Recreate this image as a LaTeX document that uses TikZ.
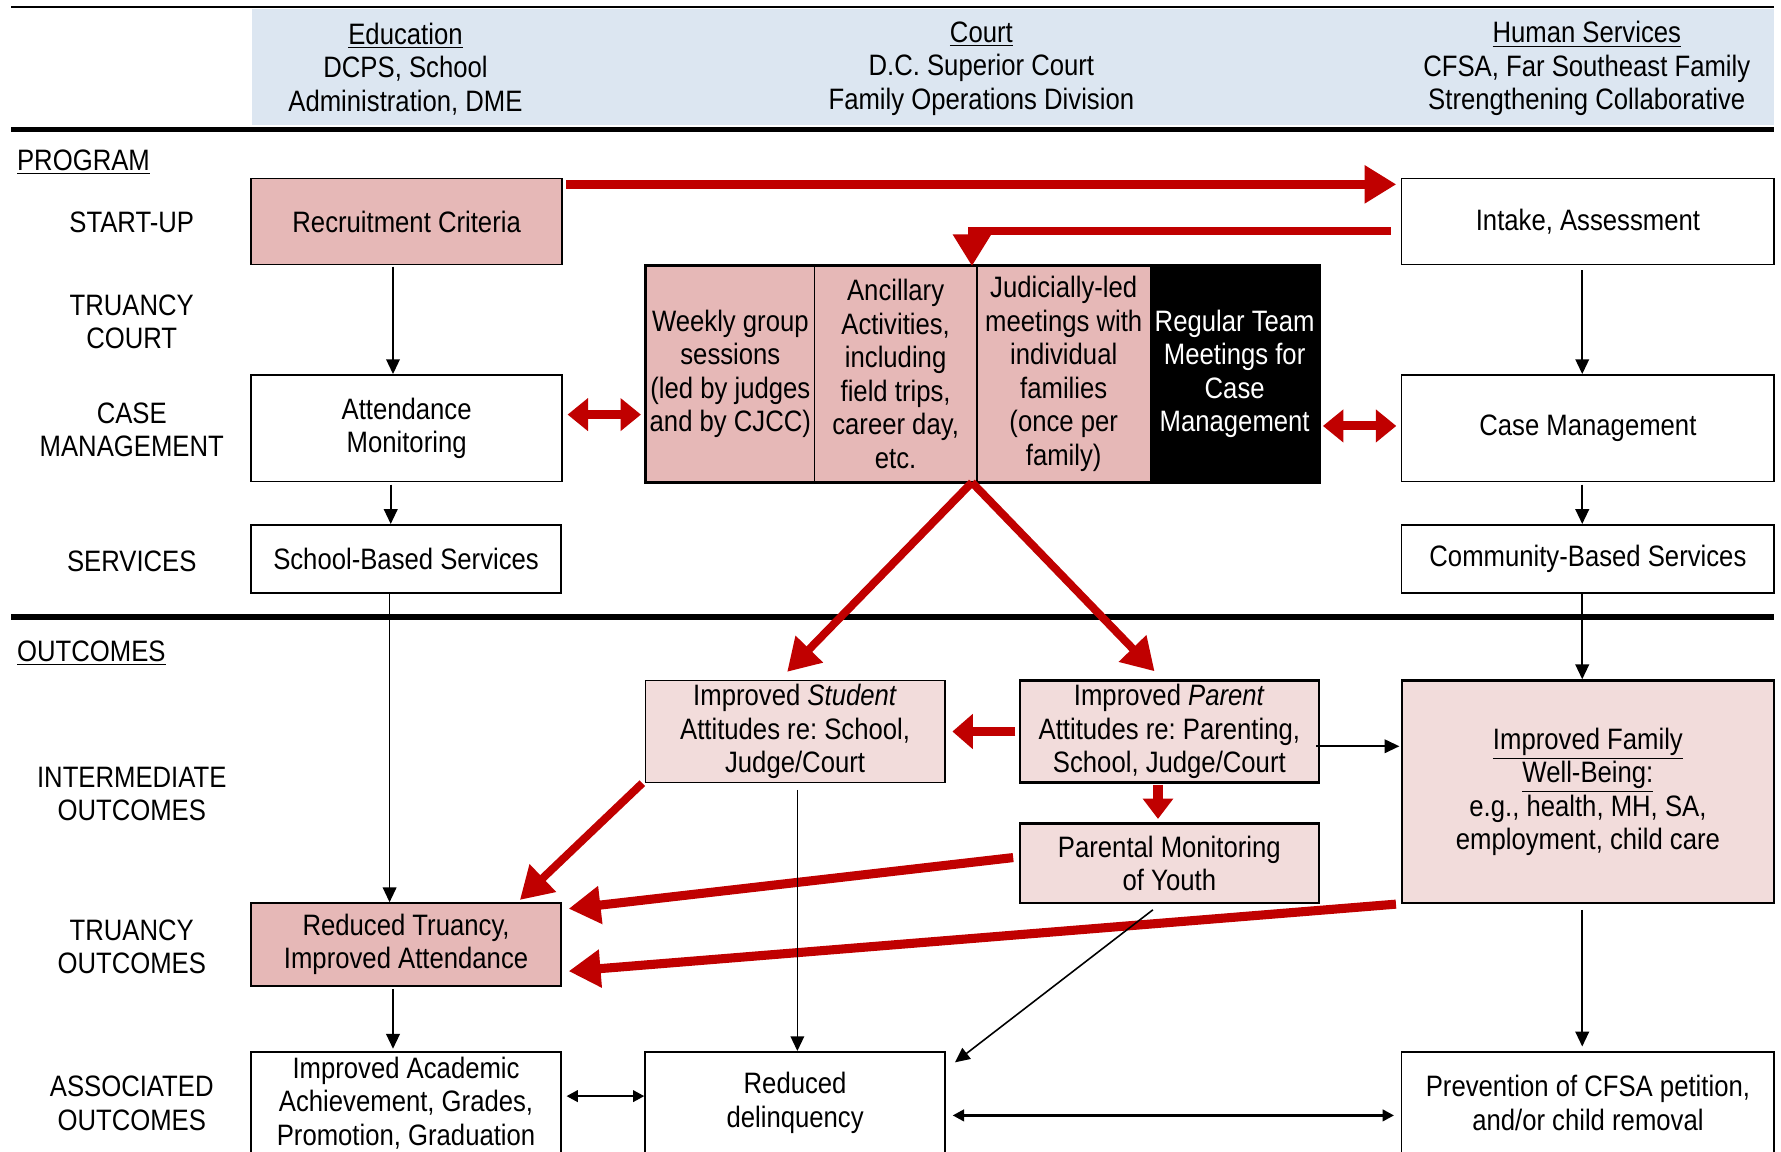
\documentclass[tikz,border=0pt]{standalone}
\usepackage{fontspec}
\setmainfont{Liberation Sans}[FakeStretch=0.87]
\usetikzlibrary{arrows.meta}
\definecolor{hdrBlue}{RGB}{220,230,241}
\definecolor{pinkDark}{RGB}{230,184,183}
\definecolor{pinkLight}{RGB}{242,220,219}
\definecolor{arrowRed}{RGB}{192,0,0}
\newcommand{\rowFont}{\fontsize{13}{14.75}\selectfont\frenchspacing}

\begin{document}
\begin{tikzpicture}[x=0.5pt,y=-0.5pt,font=\rowFont,
  box/.style={draw, line width=0.7pt, align=center, inner sep=1pt},
  redArrow/.style={draw=arrowRed, line width=4pt, -{Triangle[length=14pt,width=16pt]}},
  redDouble/.style={draw=arrowRed, line width=4pt, {Triangle[length=9pt,width=14pt]}-{Triangle[length=9pt,width=14pt]}},
  blkArrow/.style={line width=0.7pt, -{Triangle[length=6.5pt,width=6pt]}},
  blkDouble/.style={line width=1.2pt, {Triangle[length=5pt,width=5pt]}-{Triangle[length=5pt,width=5pt]}},
  rowLabel/.style={align=center}]
\clip (0,0) rectangle (1568,1014);
\fill[white] (0,0) rectangle (1568,1014);

% header band
\fill[hdrBlue] (222,8) rectangle (1562,110);
\draw[line width=1pt] (10,6) -- (1562,6);
\draw[line width=2.5pt] (10,114) -- (1562,114);
\draw[line width=2.5pt] (10,543) -- (1562,543);
\node[align=center] (hEdu) at (357,60.5) {\underline{Education}\\DCPS, School\\Administration, DME};
\node[align=center] (hCourt) at (864,60.5) {\underline{Court}\\D.C. Superior Court\\Family Operations Division};
\node[align=center] (hHuman) at (1397,60.5) {\underline{Human Services}\\CFSA, Far Southeast Family\\Strengthening Collaborative};

% row labels
\node[anchor=west] (lProgram) at (8,143) {\underline{PROGRAM}};
\node[anchor=west] (lOutcomes) at (8,575) {\underline{OUTCOMES}};
\node[rowLabel] (lStart) at (116,196) {START-UP};
\node[rowLabel] (lTruCourt) at (116,283.5) {TRUANCY\\COURT};
\node[rowLabel] (lCaseMgmt) at (116,378.5) {CASE\\MANAGEMENT};
\node[rowLabel] (lServices) at (116,494) {SERVICES};
\node[rowLabel] (lInter) at (116,699) {INTERMEDIATE\\OUTCOMES};
\node[rowLabel] (lTruOut) at (116,833.5) {TRUANCY\\OUTCOMES};
\node[rowLabel] (lAssoc) at (116,971.5) {ASSOCIATED\\OUTCOMES};

% program boxes
\node[box, fill=pinkDark, minimum width=137pt, minimum height=38pt] (rec) at (358,195) {Recruitment Criteria};
\node[box, minimum width=164pt, minimum height=38pt] (intake) at (1398,195) {Intake, Assessment};
\node[box, fill=pinkDark, minimum width=74pt, minimum height=95pt] (weekly) at (643,329) {Weekly group\\sessions\\(led by judges\\and by CJCC)};
\node[box, fill=pinkDark, minimum width=71.5pt, minimum height=95pt] (ancil) at (788.5,329) {Ancillary\\Activities,\\including\\field trips,\\career day,\\etc.};
\node[box, fill=pinkDark, minimum width=76.5pt, minimum height=95pt] (judic) at (936.5,329) {Judicially-led\\meetings with\\individual\\families\\(once per\\family)};
\node[box, fill=black, text=white, minimum width=74pt, minimum height=95pt] (regular) at (1087,329) {Regular Team\\Meetings for\\Case\\Management};
\draw[line width=1pt] (weekly.north west) rectangle (regular.south east);
\node[box, minimum width=137pt, minimum height=47pt] (attend) at (358,377) {Attendance\\Monitoring};
\node[box, minimum width=164pt, minimum height=47pt] (casem) at (1398,377) {Case Management};
\node[box, minimum width=136.5pt, minimum height=30pt] (school) at (357.5,492) {School-Based Services};
\node[box, minimum width=164pt, minimum height=30pt] (community) at (1398,492) {Community-Based Services};

% outcome boxes
\node[box, fill=pinkLight, line width=0.5pt, minimum width=132pt, minimum height=45pt] (student) at (700,644) {Improved \textit{Student}\\Attitudes re: School,\\Judge/Court};
\node[box, fill=pinkLight, line width=1pt, minimum width=131.5pt, minimum height=45pt] (parent) at (1029.5,644) {Improved \textit{Parent}\\Attitudes re: Parenting,\\School, Judge/Court};
\node[box, fill=pinkLight, line width=1pt, minimum width=164pt, minimum height=98pt] (family) at (1398,697) {\underline{Improved Family}\\\underline{Well-Being:}\\e.g., health, MH, SA,\\employment, child care};
\node[box, fill=pinkLight, line width=1pt, minimum width=131.5pt, minimum height=35pt] (monit) at (1029.5,760) {Parental Monitoring\\of Youth};
\node[box, fill=pinkDark, minimum width=136.5pt, minimum height=36.5pt] (truancy) at (357.5,831.5) {Reduced Truancy,\\Improved Attendance};
\node[box, minimum width=136.5pt, minimum height=45pt] (academic) at (357.5,971) {Improved Academic\\Achievement, Grades,\\Promotion, Graduation};
\node[box, minimum width=132pt, minimum height=45pt] (delinq) at (700,971) {Reduced\\delinquency};
\node[box, minimum width=164pt, minimum height=45pt] (prevent) at (1398,971) {Prevention of CFSA petition,\\and/or child removal};

% red connectors
\draw[redArrow] ([shift={(3,6)}]rec.north east) -- ([shift={(-4,6)}]intake.north west);
\draw[redArrow, line width=3.5pt] ([shift={(-9,8)}]intake.west) -| ([shift={(-5,1)}]ancil.north east);
\draw[redDouble] ([shift={(4,-12)}]attend.east) -- ([shift={(-4,36)}]weekly.west);
\draw[redDouble] ([shift={(3,46)}]regular.east) -- ([shift={(-4,-2)}]casem.west);
\draw[redArrow, line width=3.5pt] ([shift={(-5,0)}]ancil.south east) -- ([shift={(-7,-7)}]student.north);
\draw[redArrow, line width=3.5pt] ([shift={(-5,0)}]ancil.south east) -- ([shift={(-13,-7)}]parent.north);
\draw[redArrow, -{Triangle[length=9pt,width=15pt]}] ([shift={(-3,0)}]parent.west) -- ([shift={(6,0)}]student.east);
\draw[redArrow, line width=4.5pt, -{Triangle[length=9pt,width=13pt]}] ([shift={(-10,1)}]parent.south) -- ([shift={(-10,-3)}]monit.north);
\draw[redArrow, line width=3.5pt] ([shift={(-2,0)}]student.south west) -- ([shift={(-37,-2)}]truancy.north east);
\draw[redArrow] ([shift={(-5,-5)}]monit.west) -- ([shift={(6,-31.5)}]truancy.east);
\draw[redArrow] ([shift={(-4,0)}]family.south west) -- ([shift={(6,23.5)}]truancy.east);

% black connectors
\draw[blkArrow] ([shift={(-12,1)}]rec.south) -- ([shift={(-12,0)}]attend.north);
\draw[blkArrow] ([shift={(-5,4)}]intake.south) -- ([shift={(-5,0)}]casem.north);
\draw[blkArrow] ([shift={(-14,2)}]attend.south) -- ([shift={(-13.5,0)}]school.north);
\draw[blkArrow] ([shift={(-5,2)}]casem.south) -- ([shift={(-5,0)}]community.north);
\draw[blkArrow] ([shift={(-14.5,0)}]school.south) -- ([shift={(-14.5,0)}]truancy.north);
\draw[blkArrow] ([shift={(-5,0)}]community.south) -- ([shift={(-5,0)}]family.north);
\draw[blkArrow] ([shift={(-3,13)}]parent.east) -- ([shift={(-1,-40)}]family.west);
\draw[blkArrow] ([shift={(2,6)}]student.south) -- ([shift={(2,0)}]delinq.north);
\draw[blkArrow] ([shift={(-14.5,5)}]monit.south) -- ([shift={(8,10)}]delinq.north east);
\draw[blkArrow] ([shift={(-5,5)}]family.south) -- ([shift={(-5,-4)}]prevent.north);
\draw[blkArrow] ([shift={(-11.5,2)}]truancy.south) -- ([shift={(-11.5,-2)}]academic.north);
\draw[blkDouble] ([shift={(4,-6)}]academic.east) -- ([shift={(0,-6)}]delinq.west);
\draw[blkDouble] ([shift={(6,11)}]delinq.east) -- ([shift={(-6,11)}]prevent.west);
\end{tikzpicture}
\end{document}
